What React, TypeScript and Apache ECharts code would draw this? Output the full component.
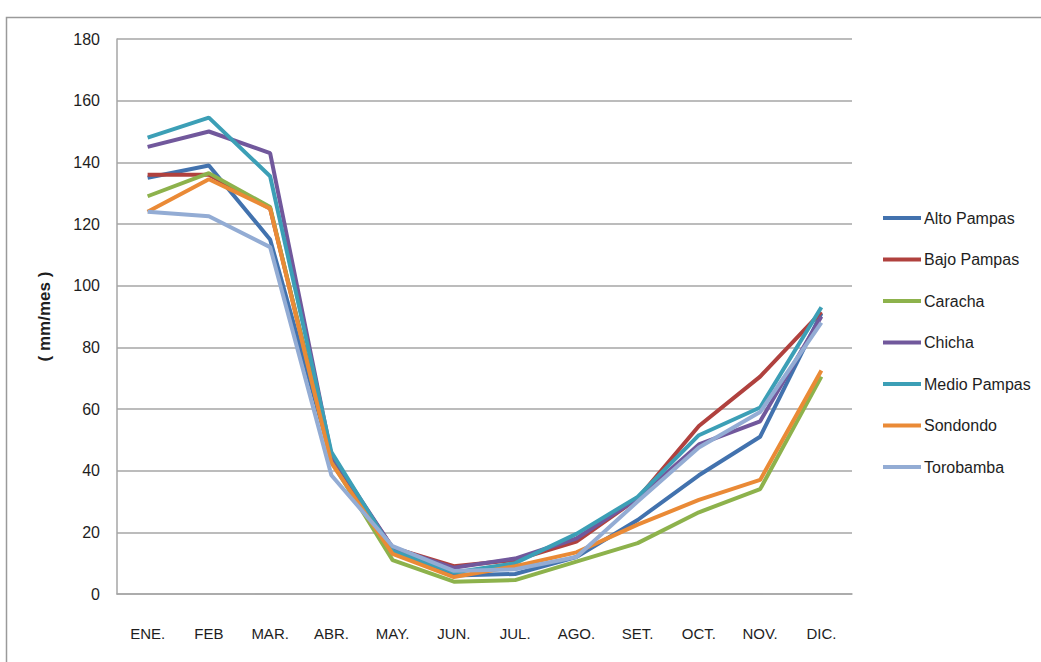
import React, { useEffect, useRef } from "react";
import * as echarts from "echarts";

// Monthly precipitation by sub-basin (mm/mes)
const months = ["ENE.", "FEB", "MAR.", "ABR.", "MAY.", "JUN.", "JUL.", "AGO.", "SET.", "OCT.", "NOV.", "DIC."];

const altoPampas = [135, 139, 115, 44, 14, 6, 6.5, 12, 24, 38.5, 51, 91];
const bajoPampas = [136, 136, 125, 44, 15, 9, 11, 17, 31, 54.5, 70.5, 91.5];
const caracha = [129, 136.5, 125.5, 43, 11, 4, 4.5, 10.5, 16.5, 26.5, 34, 70.5];
const chicha = [145, 150, 143, 45, 15, 8.5, 11.5, 18, 31, 48.5, 56, 90];
const medioPampas = [148, 154.5, 135.5, 46, 14, 7, 10, 19.5, 31.5, 51.5, 60.5, 93];
const sondondo = [124, 134.5, 125, 42.5, 13, 5.5, 9, 13.5, 22.5, 30.5, 37, 72.5];
const torobamba = [124, 122.5, 112.5, 38.5, 15.5, 7.5, 8, 12, 30, 47.5, 59, 88];

const seriesNames = ["Alto Pampas", "Bajo Pampas", "Caracha", "Chicha", "Medio Pampas", "Sondondo", "Torobamba"];
const seriesValues = [altoPampas, bajoPampas, caracha, chicha, medioPampas, sondondo, torobamba];
const seriesColors = ["#4272ae", "#b0413e", "#8db24c", "#71589c", "#3c9fb6", "#ea8a36", "#93acd4"];

const yTicks = { min: 0, max: 180, interval: 20 };

const FONT = "'Liberation Sans Narrow', 'Liberation Sans', Arial, sans-serif";

export default function App() {
  const ref = useRef<HTMLDivElement>(null);

  useEffect(() => {
    if (!ref.current) return;
    const chart = echarts.init(ref.current, undefined, { renderer: "svg" });
    chart.setOption({
      animation: false,
      backgroundColor: "#ffffff",
      graphic: [
        {
          type: "rect",
          left: 4,
          top: 15,
          shape: { width: 1100, height: 700 },
          style: { fill: "none", stroke: "#9a9a9a", lineWidth: 1.5 },
          silent: true,
        },
      ],
      grid: { left: 117, right: 189, top: 39, bottom: 68 },
      legend: {
        orient: "vertical",
        left: 878,
        top: 204,
        itemWidth: 38,
        itemHeight: 4,
        itemGap: 23.5,
        icon: "rect",
        data: seriesNames,
        textStyle: { fontFamily: FONT, fontSize: 16, color: "#1e1e1e", lineHeight: 18, padding: [0, 0, 0, -2] },
      },
      xAxis: {
        type: "category",
        data: months,
        boundaryGap: true,
        axisLine: { show: true, lineStyle: { color: "#a6a6a6", width: 1.5 } },
        axisTick: { show: false },
        axisLabel: { fontFamily: FONT, fontSize: 15, color: "#1e1e1e", margin: 32 },
      },
      yAxis: {
        type: "value",
        min: yTicks.min,
        max: yTicks.max,
        interval: yTicks.interval,
        name: "( mm/mes )",
        nameLocation: "middle",
        nameGap: 64,
        nameRotate: 90,
        nameTextStyle: { fontFamily: FONT, fontSize: 17, fontWeight: "bold", color: "#1e1e1e" },
        axisLine: { show: true, lineStyle: { color: "#a6a6a6", width: 1.5 } },
        axisTick: { show: false },
        axisLabel: { fontFamily: FONT, fontSize: 16, color: "#1e1e1e", margin: 17 },
        splitLine: { show: true, lineStyle: { color: "#a6a6a6", width: 1.5 } },
      },
      series: seriesNames.map((name, i) => ({
        name,
        type: "line",
        data: seriesValues[i],
        symbol: "none",
        color: seriesColors[i],
        lineStyle: { width: 4, color: seriesColors[i] },
      })),
    });
    return () => chart.dispose();
  }, []);

  return (
    <div
      ref={ref}
      style={{ position: "fixed", left: 0, top: 0, width: 1041, height: 662 }}
    />
  );
}
